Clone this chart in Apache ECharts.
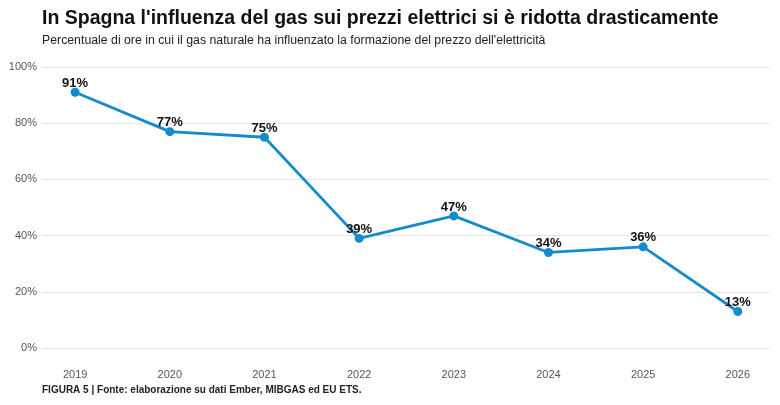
<!DOCTYPE html>
<html>
<head>
<meta charset="utf-8">
<script src="https://cdn.jsdelivr.net/npm/echarts@6/dist/echarts.min.js"></script>
<style>
  html, body { margin: 0; padding: 0; background: #fff; }
  #chart { width: 780px; height: 405px; }
</style>
</head>
<body>
<div id="chart"></div>
<script>
const years = [2019, 2020, 2021, 2022, 2023, 2024, 2025, 2026]
const gasShare = [91, 77, 75, 39, 47, 34, 36, 13]
const yTicks = [0, 20, 40, 60, 80, 100]

const chart = echarts.init(document.getElementById('chart'))
const font = 'Liberation Sans, Arial, sans-serif'

const option = {
  animation: false,
  textStyle: { fontFamily: font },
  title: [
    {
      text: "In Spagna l'influenza del gas sui prezzi elettrici si è ridotta drasticamente",
      left: 37, top: 4,
      textStyle: { fontSize: 19.5, fontWeight: 'bold', color: '#111', fontFamily: font }
    },
    {
      text: "Percentuale di ore in cui il gas naturale ha influenzato la formazione del prezzo dell'elettricità",
      left: 37, top: 30,
      textStyle: { fontSize: 12.3, fontWeight: 'normal', color: '#222', fontFamily: font }
    },
    {
      text: 'FIGURA 5 | Fonte: elaborazione su dati Ember, MIBGAS ed EU ETS.',
      left: 37, top: 380,
      textStyle: { fontSize: 10, fontWeight: 'bold', color: '#222', fontFamily: font }
    }
  ],
  grid: { left: 42, right: 10, top: 67, bottom: 57, containLabel: false },
  xAxis: {
    type: 'value',
    min: 2018.65,
    max: 2026.34,
    axisLine: { show: false },
    axisTick: { show: false },
    splitLine: { show: false },
    axisLabel: {
      customValues: years,
      color: '#555',
      fontSize: 11,
      margin: 21,
      formatter: v => String(v)
    }
  },
  yAxis: {
    type: 'value',
    min: 0, max: 100, interval: 20,
    axisLine: { show: false },
    axisTick: { show: false },
    splitLine: { lineStyle: { color: '#e3e3e3', width: 1 } },
    axisLabel: {
      color: '#555',
      fontSize: 11,
      margin: 5,
      formatter: v => yTicks.includes(v) ? v + '%' : ''
    }
  },
  series: [{
    type: 'line',
    data: years.map((y, i) => [y, gasShare[i]]),
    symbol: 'circle',
    symbolSize: 9,
    lineStyle: { color: '#168bcc', width: 2.8 },
    itemStyle: { color: '#168bcc' },
    label: {
      show: true,
      position: 'top',
      distance: -2,
      formatter: p => p.value[1] + '%',
      fontSize: 13,
      fontWeight: 'bold',
      color: '#111',
      fontFamily: font
    }
  }]
}

chart.setOption(option)
</script>
</body>
</html>
